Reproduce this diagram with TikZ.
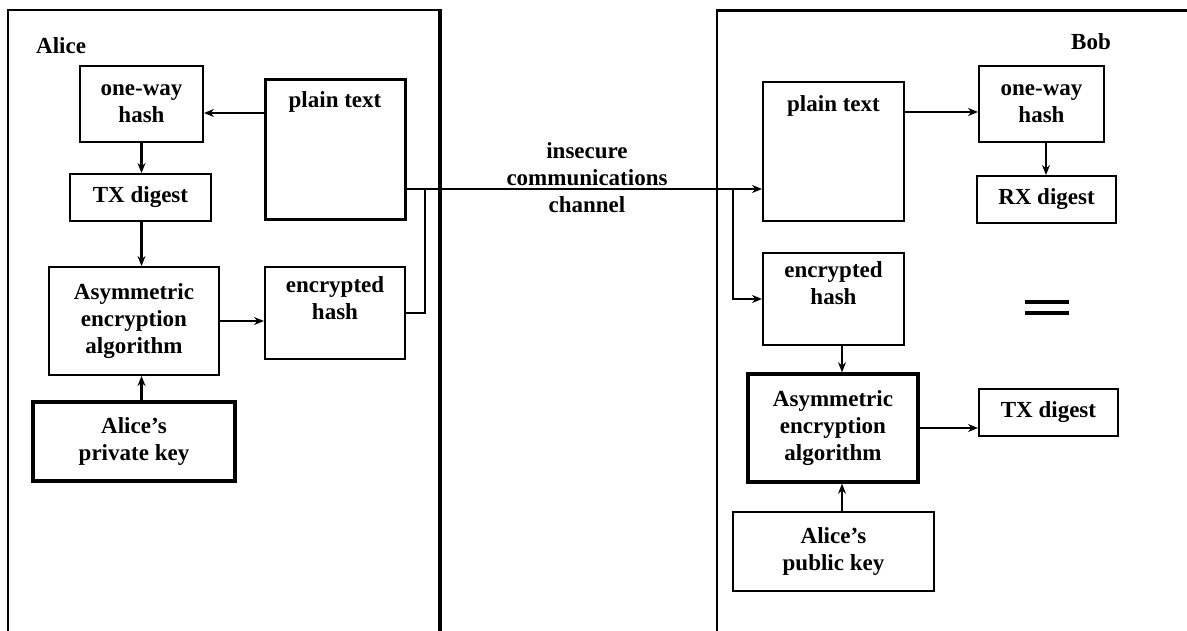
\documentclass[tikz,border=0pt]{standalone}
\usepackage{fontspec}
\setmainfont{Liberation Serif}
\usetikzlibrary{arrows.meta}
\begin{document}
\begin{tikzpicture}[x=1pt,y=-1pt,
  lbl/.style={font=\bfseries\fontsize{23}{27}\selectfont,align=center,inner sep=0pt},
  box/.style={draw,line width=2pt,inner sep=0pt,lbl},
  heavy/.style={box,line width=3.5pt},
  arr/.style={line width=1.6pt,-{Stealth[length=10pt,width=8pt]}},
  harr/.style={arr,line width=2.6pt},
  wire/.style={line width=1.6pt}]
\useasboundingbox (0,0) rectangle (1187,631);

% frames of the two parties
\draw[line width=2pt] (8,640) -- (8,10) -- (441,10);
\draw[line width=3.5pt] (440,9) -- (440,640);
\draw[line width=2pt] (717,640) -- (717,11);
\draw[line width=3pt] (716,11) -- (1190,11);

\node[lbl,anchor=west] (alice) at (36,46) {Alice};
\node[lbl] (bob) at (1091,42) {Bob};

% sender side
\node[box,minimum width=123,minimum height=76] (aow) at (141.5,104) {one-way\\hash};
\node[box,line width=3pt,minimum width=140,minimum height=140] (apt) at (335,150) {};
\node[lbl,anchor=north] (apttext) at ([yshift=-13]apt.north) {plain text};
\node[box,minimum width=141,minimum height=47] (atx) at (140.5,197.5) {TX digest};
\node[box,minimum width=170,minimum height=108] (aalg) at (134,321) {Asymmetric\\encryption\\algorithm};
\node[box,minimum width=140,minimum height=92] (aeh) at (335,313) {};
\node[lbl,anchor=north] (aehtext) at ([yshift=-10]aeh.north) {encrypted\\hash};
\node[heavy,minimum width=202,minimum height=79] (akey) at (134,441.5) {Alice's\\private key};

\draw[arr] ([yshift=-9]apt.west |- aow.east) -- ([yshift=-9]aow.east);
\draw[harr] (aow.south) -- (aow.south |- atx.north);
\draw[harr] (aow.south |- atx.south) -- (aow.south |- aalg.north);
\draw[arr] (aalg.east) -- (aalg.east -| aeh.west);
\draw[harr] (akey.north -| aow.south) -- (aalg.south -| aow.south);

% receiver side
\node[box,minimum width=141,minimum height=139] (bpt) at (833.5,151.5) {};
\node[lbl,anchor=north] (bpttext) at ([yshift=-14]bpt.north) {plain text};
\node[box,minimum width=125,minimum height=76] (bow) at (1041.5,104) {one-way\\hash};
\node[box,minimum width=139,minimum height=47] (brx) at (1046.5,199.5) {RX digest};
\node[box,minimum width=141,minimum height=92] (beh) at (833.5,299) {};
\node[lbl,anchor=north] (behtext) at ([yshift=-9]beh.north) {encrypted\\hash};
\node[heavy,minimum width=170,minimum height=108] (balg) at (833,428) {Asymmetric\\encryption\\algorithm};
\node[box,minimum width=139,minimum height=47] (btx) at (1048.5,412.5) {TX digest};
\node[box,minimum width=201,minimum height=79] (bkey) at (833.5,551.5) {Alice's\\public key};

\draw[arr] ([yshift=-8]bpt.east |- bow.west) -- ([yshift=-8]bow.west);
\draw[arr] ([xshift=4.5]bow.south) -- ([xshift=4.5]bow.south |- brx.north);
\draw[arr] ([xshift=8.5]beh.south) -- ([xshift=8.5]beh.south |- balg.north);
\draw[arr] (balg.east) -- (balg.east -| btx.west);
\draw[arr] ([xshift=8.5]bkey.north) -- ([xshift=8.5]bkey.north |- balg.south);

% equality of the two digests
\draw[line width=4pt] (1025,302) -- (1069,302);
\draw[line width=4pt] (1025,313) -- (1069,313);

% insecure channel
\coordinate (ajoin) at (425,189);
\coordinate (bjoin) at (733,189);
\draw[arr] (apt.east |- ajoin) -- (bpt.west |- ajoin);
\draw[wire] (aeh.east) -| (ajoin);
\draw[arr] (bjoin) |- (beh.west);
\node[lbl] (channel) at (587,178) {insecure\\communications\\channel};
\end{tikzpicture}
\end{document}
